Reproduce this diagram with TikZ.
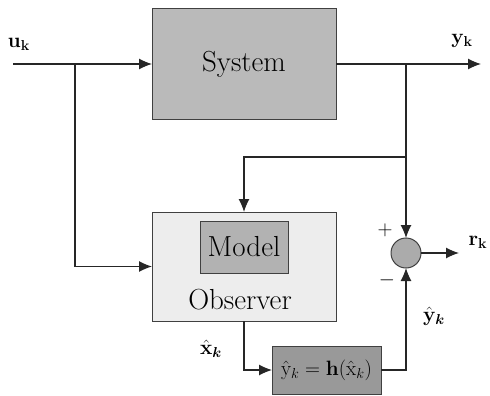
\documentclass[tikz,border=0pt]{standalone}
\usepackage{amsmath,bm}
\usetikzlibrary{arrows.meta}
\begin{document}
\begin{tikzpicture}[x=1pt,y=-1pt,
  every node/.style={inner sep=0pt,outer sep=0pt},
  blk/.style={draw=black!75,line width=1pt,rectangle},
  arr/.style={-{Latex[length=13pt,width=11pt]},line width=1.1pt,black!85},
  big/.style={font=\fontsize{29}{34}\selectfont},
  lbl/.style={font=\fontsize{21}{25}\selectfont},
  hlbl/.style={font=\fontsize{22}{26}\selectfont}]
\useasboundingbox (0,0) rectangle (490,396);
% blocks
\node[blk,big,fill=black!27,minimum width=184pt,minimum height=110pt] (sys) at (244,64) {System};
\node[blk,fill=black!7,minimum width=184pt,minimum height=109pt] (obs) at (244,266.5) {};
\node[blk,big,fill=black!30,minimum width=88pt,minimum height=52pt] (model) at (244,247) {Model};
\node[big] (obstxt) at (240,300) {Observer};
\node[blk,hlbl,fill=black!40,minimum width=109pt,minimum height=48pt] (hb) at (326.5,370)
  {$\hat{\mathrm{y}}_k=\mathbf{h}(\hat{\mathrm{x}}_k)$};
\node[draw=black!75,line width=1pt,circle,fill=black!33,minimum size=30pt] (sum) at (406,253) {};
% coordinates
\coordinate (uin) at (13,64);
\coordinate (bl) at (75,64);
\coordinate (br) at (406,64);
\coordinate (yout) at (481,64);
\coordinate (fb) at (406,157);
\coordinate (rout) at (459,253);
% connectors
\draw[arr] (uin) -- (sys.west);
\draw[arr] (sys.east) -- (yout);
\draw[arr] (bl) |- (obs.west);
\draw[arr] (br) -- (sum.north);
\draw[arr] (fb) -| (obs.north);
\draw[arr] (obs.south) |- (hb.west);
\draw[arr] (hb.east) -| (sum.south);
\draw[arr] (sum.east) -- (rout);
% labels
\node[lbl] (ulab) at (19,44) {$\mathbf{u}_{\mathbf{k}}$};
\node[lbl] (ylab) at (462,41) {$\mathbf{y}_{\mathbf{k}}$};
\node[lbl] (rlab) at (478,242) {$\mathbf{r}_{\mathbf{k}}$};
\node[lbl] (yhlab) at (434,316) {$\hat{\mathbf{y}}_{\bm{k}}$};
\node[lbl] (xhlab) at (211,349) {$\hat{\mathbf{x}}_{\bm{k}}$};
\node[lbl] (plus) at (385,230) {$+$};
\node[lbl] (minus) at (387,280) {$-$};
\end{tikzpicture}
\end{document}
